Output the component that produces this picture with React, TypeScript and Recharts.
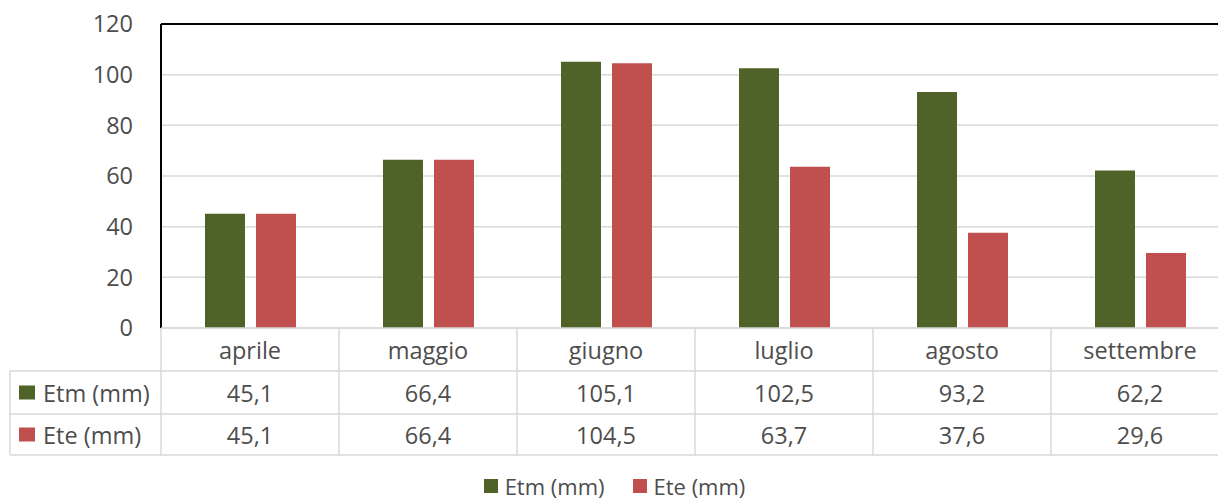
import { BarChart, Bar, XAxis, YAxis, CartesianGrid, Legend, ReferenceLine } from "recharts";

const months = ["aprile", "maggio", "giugno", "luglio", "agosto", "settembre"];
const etm = [45.1, 66.4, 105.1, 102.5, 93.2, 62.2];
const ete = [45.1, 66.4, 104.5, 63.7, 37.6, 29.6];
const yTicks = [0, 20, 40, 60, 80, 100, 120];

const seriesNames = ["Etm (mm)", "Ete (mm)"];
const seriesColors = ["#4f6228", "#c0504d"];
const seriesValues = [etm, ete];

const data = months.map((m, i) => ({ month: m, etm: etm[i], ete: ete[i] }));

const FONT = "'Open Sans', sans-serif";
const TEXT = "#4d4d4d";
const LINE = "#d9d9d9";

const CHART_W = 1229;
const CHART_H = 501;
const AXIS_W = 161;
const COL_W = (CHART_W - AXIS_W) / months.length;
const ROW_H = [43, 43, 41];
const TABLE_H = ROW_H[0] + ROW_H[1] + ROW_H[2];
const LEGEND_H = 46;

const fmt = (v: number) => v.toFixed(1).replace(".", ",");

function TableTick(props: any) {
  const { x, y, payload, index } = props;
  const left = x - COL_W / 2;
  const right = x + COL_W / 2;
  const r1 = y + ROW_H[0];
  const r2 = r1 + ROW_H[1];
  const r3 = r2 + ROW_H[2];
  const textProps = { fontFamily: FONT, fontSize: 23.5, fill: TEXT, textAnchor: "middle" as const, dominantBaseline: "central" as const };
  return (
    <g>
      <line x1={left} y1={y} x2={left} y2={r3} stroke={LINE} strokeWidth={1.5} />
      {index === months.length - 1 && <line x1={right} y1={y} x2={right} y2={r3} stroke={LINE} strokeWidth={1.5} />}
      <line x1={left} y1={r1} x2={right} y2={r1} stroke={LINE} strokeWidth={1.5} />
      <line x1={left} y1={r2} x2={right} y2={r2} stroke={LINE} strokeWidth={1.5} />
      <line x1={left} y1={r3} x2={right} y2={r3} stroke={LINE} strokeWidth={1.5} />
      <text x={x} y={y + ROW_H[0] / 2} {...textProps}>{payload.value}</text>
      {seriesValues.map((vals, s) => (
        <text key={s} x={x} y={(s === 0 ? r1 : r2) + ROW_H[s + 1] / 2} {...textProps}>
          {fmt(vals[index])}
        </text>
      ))}
      {index === 0 && (
        <g>
          {/* series header cells on the left of the table */}
          <line x1={10} y1={r1} x2={left} y2={r1} stroke={LINE} strokeWidth={1.5} />
          <line x1={10} y1={r2} x2={left} y2={r2} stroke={LINE} strokeWidth={1.5} />
          <line x1={10} y1={r3} x2={left} y2={r3} stroke={LINE} strokeWidth={1.5} />
          <line x1={10} y1={r1} x2={10} y2={r3} stroke={LINE} strokeWidth={1.5} />
          {seriesNames.map((name, s) => {
            const cy = (s === 0 ? r1 : r2) + ROW_H[s + 1] / 2;
            return (
              <g key={name}>
                <rect x={19} y={cy - 7} width={16} height={14} fill={seriesColors[s]} />
                <text x={43} y={cy} {...textProps} textAnchor="start">{name}</text>
              </g>
            );
          })}
        </g>
      )}
    </g>
  );
}

function LegendContent() {
  return (
    <div style={{ height: LEGEND_H, boxSizing: "border-box", paddingTop: 19, display: "flex", justifyContent: "center", alignItems: "flex-start", fontFamily: FONT, fontSize: 22, color: TEXT }}>
      {seriesNames.map((name, s) => (
        <div key={name} style={{ display: "flex", alignItems: "center", marginRight: s === 0 ? 28 : 0, height: 24 }}>
          <span style={{ width: 14, height: 14, background: seriesColors[s], marginRight: 7, display: "inline-block" }} />
          <span style={{ lineHeight: "24px" }}>{name}</span>
        </div>
      ))}
    </div>
  );
}

export default function App() {
  return (
    <div style={{ position: "absolute", left: 0, top: 0, width: 1218, height: 501, overflow: "hidden", background: "#fff" }}>
      <BarChart
        width={CHART_W}
        height={CHART_H}
        data={data}
        margin={{ top: 24, right: 0, left: 0, bottom: 0 }}
        barSize={40}
        barGap={11}
      >
        <CartesianGrid vertical={false} stroke={LINE} strokeWidth={1.5} />
        <YAxis
          width={AXIS_W}
          domain={[0, 120]}
          ticks={yTicks}
          interval={0}
          axisLine={{ stroke: "#000", strokeWidth: 2 }}
          tickLine={false}
          tickSize={0}
          tickMargin={28}
          tick={{ fontFamily: FONT, fontSize: 23.5, fill: TEXT }}
        />
        <XAxis
          dataKey="month"
          height={TABLE_H}
          interval={0}
          axisLine={{ stroke: LINE, strokeWidth: 1.5 }}
          tickLine={false}
          tickSize={0}
          tickMargin={0}
          tick={(p: any) => <TableTick {...p} />}
        />
        <ReferenceLine y={120} stroke="#000" strokeWidth={2} ifOverflow="extendDomain" />
        <Bar dataKey="etm" name={seriesNames[0]} fill={seriesColors[0]} isAnimationActive={false} />
        <Bar dataKey="ete" name={seriesNames[1]} fill={seriesColors[1]} isAnimationActive={false} />
        <Legend verticalAlign="bottom" height={LEGEND_H} content={() => <LegendContent />} />
      </BarChart>
    </div>
  );
}
